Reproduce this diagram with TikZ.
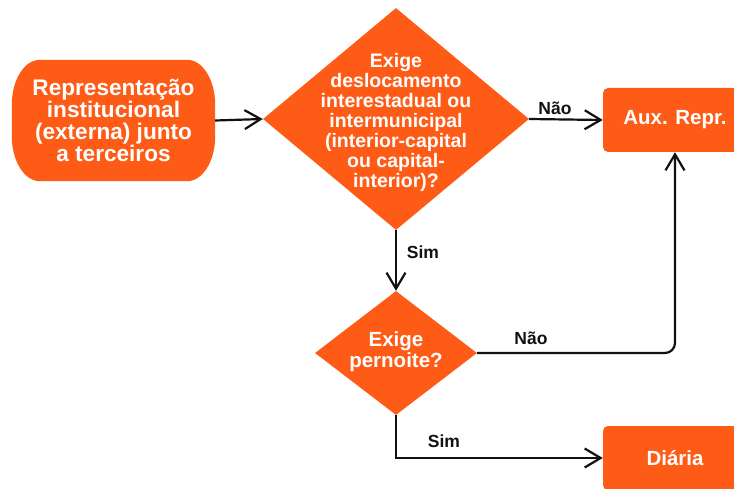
\documentclass[tikz,border=0pt]{standalone}
\usepackage{fontspec}
\setmainfont{Liberation Sans}
\usetikzlibrary{shapes.geometric,arrows.meta,backgrounds}
\definecolor{orng}{RGB}{254,91,22}
\definecolor{ink}{RGB}{17,17,17}
\begin{document}
\begin{tikzpicture}[x=1pt,y=1pt,
  box/.style={fill=orng, rounded corners=5pt, minimum width=144pt, minimum height=64pt, inner sep=0pt, text=white, font=\bfseries\fontsize{20.5}{21}\selectfont},
  decision/.style={diamond, fill=orng, inner sep=0pt},
  dtext/.style={text=white, align=center, inner sep=0pt},
  lbl/.style={text=ink, font=\bfseries\fontsize{17.5}{18}\selectfont, inner sep=0pt},
  conn/.style={draw=ink, line width=2.2pt, -{Straight Barb[length=16pt,width=19pt]}},
]
\useasboundingbox (0,0) rectangle (734,488);
% start terminal
\node[dtext, minimum width=203pt, minimum height=121pt, font=\bfseries\fontsize{22.6}{22.3}\selectfont] (start) at (113.5,367.5) {Representação\\institucional\\(externa) junto\\a terceiros};
\begin{pgfonlayer}{background}
\fill[orng] ([xshift=28pt]start.north west) -- ([xshift=-28pt]start.north east)
  arc[start angle=90, end angle=0, x radius=28pt, y radius=45pt]
  -- ([yshift=45pt]start.south east)
  arc[start angle=0, end angle=-90, x radius=28pt, y radius=45pt]
  -- ([xshift=28pt]start.south west)
  arc[start angle=270, end angle=180, x radius=28pt, y radius=45pt]
  -- ([yshift=-45pt]start.north west)
  arc[start angle=180, end angle=90, x radius=28pt, y radius=45pt]
  -- cycle;
\end{pgfonlayer}
% decisions
\node[decision, minimum width=266pt, minimum height=222pt] (q1) at (396,369) {};
\node[dtext, font=\bfseries\fontsize{19.5}{20}\selectfont] (q1t) at (396,366) {Exige\\deslocamento\\interestadual ou\\intermunicipal\\(interior-capital\\ou capital-\\interior)?};
\node[decision, minimum width=162pt, minimum height=124pt] (q2) at (396,135) {};
\node[dtext, font=\bfseries\fontsize{20.5}{21}\selectfont] (q2t) at (396,136) {Exige\\pernoite?};
% outcomes
\node[box] (aux) at (675,368) {Aux. Repr.};
\node[box] (diaria) at (675,30) {Diária};
% connectors
\draw[conn] (start.east) -- (q1.west);
\draw[conn] (q1.east) -- (aux.west);
\draw[conn] (q1.south) -- (q2.north);
\draw[conn, rounded corners=10pt] (q2.east) -| (aux.south);
\draw[conn] (q2.south) |- (diaria.west);
% labels
\node[lbl] (l1) at (555,380) {Não};
\node[lbl] (l2) at (423,236) {Sim};
\node[lbl] (l3) at (531,150) {Não};
\node[lbl] (l4) at (444,47) {Sim};
\end{tikzpicture}
\end{document}
